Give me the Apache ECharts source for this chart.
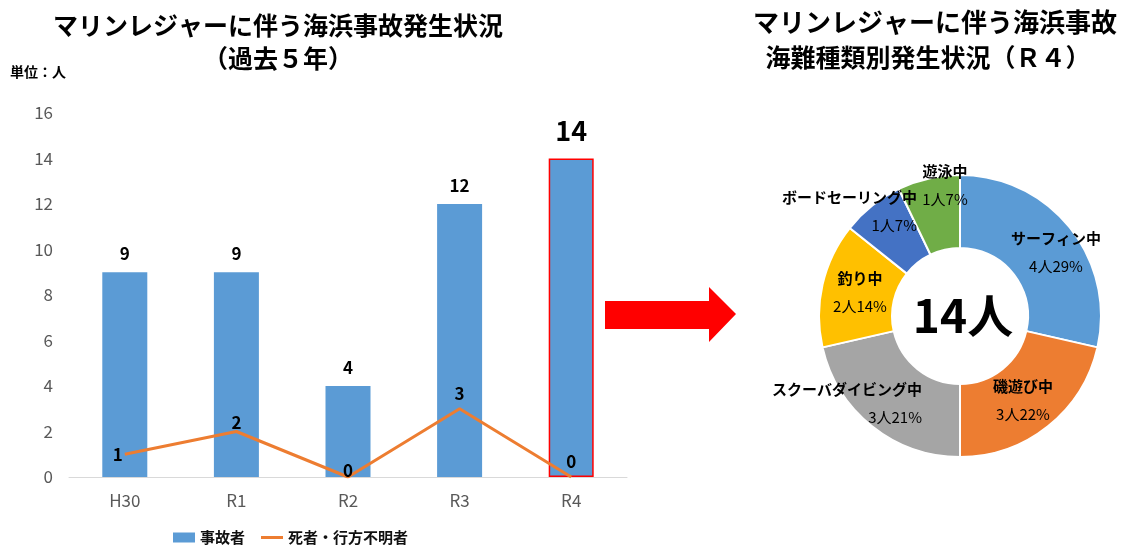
<!DOCTYPE html>
<html>
<head>
<meta charset="utf-8">
<script src="https://cdn.jsdelivr.net/npm/echarts@6/dist/echarts.min.js"></script>
<style>
html,body{margin:0;padding:0;background:#fff;}
#main{width:1131px;height:545px;}
</style>
</head>
<body>
<div id="main"></div>
<script>
// ---- data ----
const years = ['H30', 'R1', 'R2', 'R3', 'R4'];
const accidents = [9, 9, 4, 12, 14];
const deaths = [1, 2, 0, 3, 0];
const yTicks = [0, 2, 4, 6, 8, 10, 12, 14, 16];
const activityNames = ['サーフィン中', '磯遊び中', 'スクーバダイビング中', '釣り中', 'ボードセーリング中', '遊泳中'];
const activityCounts = [4, 3, 3, 2, 1, 1];
const activityPctLabels = ['29%', '22%', '21%', '14%', '7%', '7%'];
const totalLabel = '14人';

const FONT = "'Noto Sans CJK JP', 'Noto Sans', sans-serif";
const NARROW = "'Liberation Sans Narrow', 'Noto Sans CJK JP', sans-serif";
const chart = echarts.init(document.getElementById('main'), null, {renderer: 'canvas'});
const highlight = years.length - 1;
const pieColors = ['#5B9BD5', '#ED7D31', '#A5A5A5', '#FFC000', '#4472C4', '#70AD47'];

// label layout for pie (manual placement as in the reference)
const pieLabelPos = [
  {x: 1056, y: 252, align: 'center'},
  {x: 1023, y: 400, align: 'center'},
  {x: 922, y: 403, align: 'right'},
  {x: 860, y: 292, align: 'center'},
  {x: 917, y: 211, align: 'right'},
  {x: 945, y: 185, align: 'center'}
];
const lineLabelCfg = [
  {position: 'left', distance: 2},
  {position: 'top', distance: 0},
  {position: 'top', distance: -2},
  {position: 'top', distance: 7},
  {position: 'top', distance: 7}
];

const option = {
  backgroundColor: '#fff',
  animation: false,
  textStyle: {fontFamily: FONT},
  grid: {left: 69, right: 504, top: 113, bottom: 68, containLabel: false},
  legend: {
    left: 168, top: 525,
    itemGap: 16,
    itemWidth: 22, itemHeight: 10,
    textStyle: {fontFamily: FONT, fontSize: 15, fontWeight: 'bold', color: '#111'},
    data: [
      {name: '事故者', icon: 'rect'},
      {name: '死者・行方不明者', icon: 'path://M0,0 L22,0 L22,3 L0,3 Z', itemStyle: {color: '#ED7D31', opacity: 1}}
    ]
  },
  xAxis: {
    type: 'category',
    data: years,
    axisLine: {lineStyle: {color: '#D9D9D9', width: 1}},
    axisTick: {show: false},
    axisLabel: {color: '#595959', fontSize: 17, margin: 15, fontFamily: NARROW}
  },
  yAxis: {
    type: 'value',
    min: yTicks[0], max: yTicks[yTicks.length - 1], interval: yTicks[1] - yTicks[0],
    axisLine: {show: false},
    axisTick: {show: false},
    splitLine: {show: false},
    axisLabel: {color: '#595959', fontSize: 17, margin: 16, fontFamily: NARROW}
  },
  series: [
    {
      name: '事故者',
      type: 'bar',
      barWidth: 45,
      itemStyle: {color: '#5B9BD5'},
      label: {show: true, position: 'top', distance: 10, color: '#000', fontWeight: 'bold', fontSize: 17, fontFamily: NARROW},
      data: accidents.map((v, i) => i === highlight ? {
        value: v,
        itemStyle: {color: '#5B9BD5', borderColor: '#FF0000', borderWidth: 1.5},
        label: {fontSize: 27, distance: 14}
      } : v),
      z: 2
    },
    {
      name: '死者・行方不明者',
      type: 'line',
      symbol: 'circle',
      symbolSize: 0.1,
      showSymbol: true,
      lineStyle: {color: '#ED7D31', width: 3},
      itemStyle: {color: '#ED7D31'},
      label: {show: true, color: '#000', fontWeight: 'bold', fontSize: 17, fontFamily: NARROW},
      data: deaths.map((v, i) => ({value: v, label: {show: true, position: lineLabelCfg[i].position, distance: lineLabelCfg[i].distance}})),
      z: 3
    },
    {
      name: 'activities',
      type: 'pie',
      center: [960, 316],
      radius: [68, 141],
      startAngle: 90,
      clockwise: true,
      avoidLabelOverlap: false,
      itemStyle: {borderColor: '#fff', borderWidth: 2},
      label: {
        show: true, position: 'inside',
        color: '#000', fontFamily: FONT,
        formatter: p => '{n|' + p.name + '}\n{v|' + p.value + '人' + activityPctLabels[p.dataIndex] + '}',
        rich: {
          n: {fontSize: 15, fontWeight: 'bold', color: '#000', lineHeight: 28, fontFamily: FONT},
          v: {fontSize: 15, color: '#000', lineHeight: 28, fontFamily: FONT}
        }
      },
      labelLine: {show: false},
      labelLayout: p => {
        const c = pieLabelPos[p.dataIndex];
        return {x: c.x, y: c.y, align: c.align, verticalAlign: 'middle'};
      },
      data: activityNames.map((n, i) => ({name: n, value: activityCounts[i], itemStyle: {color: pieColors[i]}}))
    }
  ],
  graphic: [
    {type: 'text', x: 278, y: 25, style: {text: 'マリンレジャーに伴う海浜事故発生状況', font: 'bold 25px ' + FONT, fill: '#000', textAlign: 'center', textVerticalAlign: 'middle'}},
    {type: 'text', x: 278, y: 58, style: {text: '（過去５年）', font: 'bold 25px ' + FONT, fill: '#000', textAlign: 'center', textVerticalAlign: 'middle'}},
    {type: 'text', x: 10, y: 72, style: {text: '単位：人', font: 'bold 14px ' + FONT, fill: '#000', textAlign: 'left', textVerticalAlign: 'middle'}},
    {type: 'text', x: 935, y: 22, style: {text: 'マリンレジャーに伴う海浜事故', font: 'bold 26px ' + FONT, fill: '#000', textAlign: 'center', textVerticalAlign: 'middle'}},
    {type: 'text', x: 928, y: 57, style: {text: '海難種類別発生状況（Ｒ４）', font: 'bold 25px ' + FONT, fill: '#000', textAlign: 'center', textVerticalAlign: 'middle'}},
    {type: 'text', x: 963, y: 316, style: {text: totalLabel, font: 'bold 46px ' + FONT, fill: '#000', textAlign: 'center', textVerticalAlign: 'middle'}},
    {type: 'polygon', shape: {points: [[605, 301], [709, 301], [709, 287], [736, 314], [709, 342], [709, 329], [605, 329]]}, style: {fill: '#FF0000'}}
  ]
};
chart.setOption(option);
</script>
</body>
</html>
